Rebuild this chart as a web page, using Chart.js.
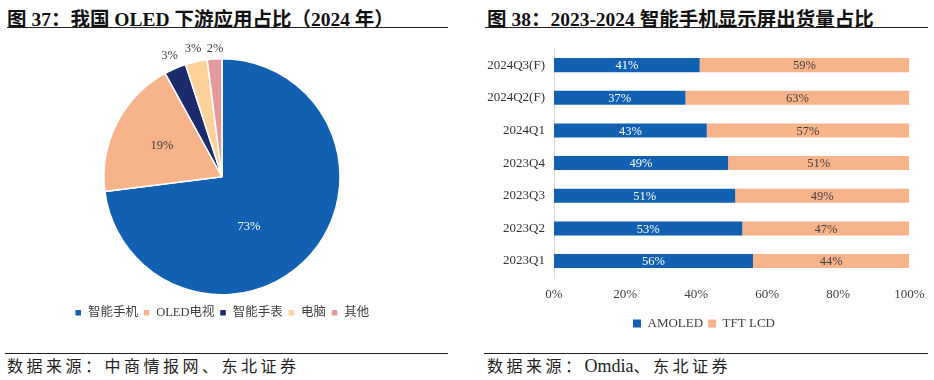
<!DOCTYPE html>
<html>
<head>
<meta charset="utf-8">
<script src="https://cdn.jsdelivr.net/npm/chart.js@4.4.1/dist/chart.umd.min.js"></script>
<style>
  body { margin: 0; background: #fff; width: 934px; height: 380px; position: relative; overflow: hidden; }
  .title { position: absolute; top: 3px; font: bold 19.5px 'Liberation Serif', 'Noto Sans CJK SC', serif; color: #111; white-space: nowrap; }
  .rule { position: absolute; height: 0; border-top: 1.5px solid #222; }
  .source { position: absolute; top: 353px; font: 16px 'Noto Sans CJK SC', 'Liberation Serif', serif; letter-spacing: 3.5px; color: #222; white-space: nowrap; }
  .source span { font-family: 'Liberation Serif', serif; letter-spacing: 0; font-size: 18px; }
  canvas { position: absolute; }
</style>
</head>
<body>
<div class="title" style="left:7px">图 37：我国 OLED 下游应用占比（2024 年）</div>
<div class="rule" style="left:7px; width:441px; top:27px"></div>
<div class="title" style="left:487px">图 38：2023-2024 智能手机显示屏出货量占比</div>
<div class="rule" style="left:485px; width:443px; top:27px"></div>

<div style="position:absolute;left:0;top:30px;width:440px;height:310px"><canvas id="pieChart"></canvas></div>
<div style="position:absolute;left:470px;top:32px;width:464px;height:308px"><canvas id="barChart"></canvas></div>

<div class="rule" style="left:5px; width:443px; top:353px"></div>
<div class="rule" style="left:484px; width:444px; top:353px"></div>
<div class="source" style="left:7px">数据来源：中商情报网、东北证券</div>
<div class="source" style="left:487px">数据来源：<span>Omdia</span>、东北证券</div>

<script>
const pieLabels = ['智能手机', 'OLED电视', '智能手表', '电脑', '其他'];
const pieValues = [73, 19, 3, 3, 2];
const pieColors = ['#1160B2', '#F7B38A', '#1C2B6B', '#FDD39B', '#E59B9E'];

const quarters = ['2024Q3(F)', '2024Q2(F)', '2024Q1', '2023Q4', '2023Q3', '2023Q2', '2023Q1'];
const amoled = [41, 37, 43, 49, 51, 53, 56];
const tftLcd = [59, 63, 57, 51, 49, 47, 44];

const serif = "'Liberation Serif', 'Noto Sans CJK SC', serif";
const textColor = '#404040';

// percent labels for the pie: big slices inside, small ones just outside
const pieLabelPlugin = {
    id: 'pieLabels',
    afterDatasetsDraw(chart) {
        const ctx = chart.ctx;
        const arcs = chart.getDatasetMeta(0).data;
        const values = chart.data.datasets[0].data;
        ctx.save();
        ctx.font = '12.5px ' + serif;
        ctx.textAlign = 'center';
        ctx.textBaseline = 'middle';
        let lastX = -Infinity;
        arcs.forEach(function (arc, i) {
            const p = arc.getProps(['x', 'y', 'startAngle', 'endAngle', 'outerRadius'], true);
            const mid = (p.startAngle + p.endAngle) / 2;
            const v = values[i];
            if (v >= 10) {
                // the big slice's label sits a bit further round, like the original
                const a = v > 50 ? mid + 0.35 : mid;
                const f = v > 50 ? 0.48 : 0.57;
                ctx.fillStyle = i === 0 ? '#fff' : textColor;
                ctx.fillText(v + '%', p.x + Math.cos(a) * p.outerRadius * f, p.y + Math.sin(a) * p.outerRadius * f);
            } else {
                const rr = p.outerRadius + 14;
                let x = p.x + Math.cos(mid) * rr;
                const y = p.y + Math.sin(mid) * rr;
                if (x < lastX + 22) x = lastX + 22;
                lastX = x;
                ctx.fillStyle = textColor;
                ctx.fillText(v + '%', x, Math.max(y, p.y - p.outerRadius - 10));
            }
        });
        ctx.restore();
    }
};

const barLabelPlugin = {
    id: 'barLabels',
    afterDatasetsDraw(chart) {
        const ctx = chart.ctx;
        ctx.save();
        ctx.font = '12.5px ' + serif;
        ctx.textAlign = 'center';
        ctx.textBaseline = 'middle';
        chart.data.datasets.forEach(function (ds, di) {
            ctx.fillStyle = di === 0 ? '#fff' : textColor;
            chart.getDatasetMeta(di).data.forEach(function (bar, i) {
                const c = bar.getCenterPoint();
                ctx.fillText(ds.data[i] + '%', c.x, c.y + 1);
            });
        });
        ctx.restore();
    }
};

// nudge the bar legend right so it sits under the middle of the plot, as in the original
const legendShift = {
    id: 'legendShift',
    afterLayout(chart) {
        chart.legend.left += 14;
        chart.legend.right += 14;
    }
};

new Chart(document.getElementById('pieChart').getContext('2d'), {
    type: 'pie',
    data: {
        labels: pieLabels,
        datasets: [{
            data: pieValues,
            backgroundColor: pieColors,
            borderColor: '#fff',
            borderWidth: 1.5,
            radius: 118
        }]
    },
    options: {
        responsive: true,
        maintainAspectRatio: false,
        animation: false,
        layout: { padding: { top: 22, bottom: 11, left: 4, right: 0 } },
        plugins: {
            tooltip: { enabled: false },
            legend: {
                position: 'bottom',
                labels: {
                    boxWidth: 7,
                    boxHeight: 7,
                    padding: 5,
                    color: textColor,
                    font: { family: serif, size: 12.5 }
                }
            }
        }
    },
    plugins: [pieLabelPlugin]
});

new Chart(document.getElementById('barChart').getContext('2d'), {
    type: 'bar',
    data: {
        labels: quarters,
        datasets: [
            { label: 'AMOLED', data: amoled, backgroundColor: '#1160B2', categoryPercentage: 1, barPercentage: 0.43 },
            { label: 'TFT LCD', data: tftLcd, backgroundColor: '#F7B38A', categoryPercentage: 1, barPercentage: 0.43 }
        ]
    },
    options: {
        indexAxis: 'y',
        responsive: true,
        maintainAspectRatio: false,
        animation: false,
        layout: { padding: { top: 0, bottom: 0, left: 0, right: 24 } },
        scales: {
            x: {
                stacked: true,
                min: 0,
                max: 100,
                grid: { display: false, drawTicks: false },
                border: { display: false },
                ticks: {
                    stepSize: 20,
                    padding: 9.5,
                    color: textColor,
                    font: { family: serif, size: 13 },
                    callback: function (v) { return v + '%'; }
                }
            },
            y: {
                stacked: true,
                grid: { display: false, drawTicks: false },
                border: { display: true, color: '#d9d9d9', width: 1 },
                ticks: {
                    padding: 9,
                    color: '#333',
                    font: { family: serif, size: 13 }
                },
                afterFit: function (scale) { scale.width = 84; }
            }
        },
        plugins: {
            tooltip: { enabled: false },
            legend: {
                position: 'bottom',
                labels: {
                    boxWidth: 8,
                    boxHeight: 8,
                    padding: 5,
                    color: textColor,
                    font: { family: serif, size: 13 }
                }
            }
        }
    },
    plugins: [barLabelPlugin, legendShift]
});
</script>
</body>
</html>
